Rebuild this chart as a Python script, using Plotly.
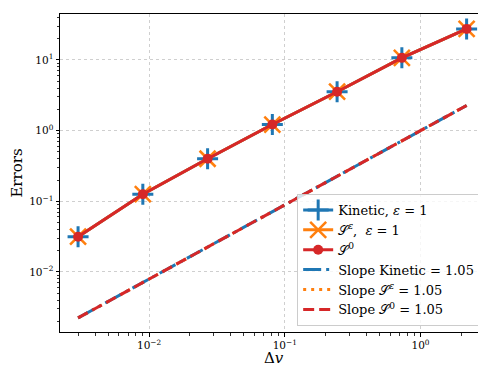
import plotly.graph_objects as go

dv = [0.003, 0.009, 0.027, 0.081, 0.243, 0.729, 2.187]
err_kinetic = [0.0316, 0.126, 0.40, 1.22, 3.55, 10.7, 27.5]
err_seps = [0.0316, 0.126, 0.40, 1.22, 3.55, 10.7, 27.5]
err_s0 = [0.0316, 0.126, 0.40, 1.22, 3.55, 10.7, 27.5]
slope_kinetic = [0.00224, 0.0071, 0.0225, 0.0711, 0.226, 0.716, 2.27]
slope_seps = [0.00224, 0.0071, 0.0225, 0.0711, 0.226, 0.716, 2.27]
slope_s0 = [0.00224, 0.0071, 0.0225, 0.0711, 0.226, 0.716, 2.27]

x_ticks = [0.01, 0.1, 1]
x_labels = ["10<sup>−2</sup>", "10<sup>−1</sup>", "10<sup>0</sup>"]
y_ticks = [0.01, 0.1, 1, 10]
y_labels = ["10<sup>−2</sup>", "10<sup>−1</sup>", "10<sup>0</sup>", "10<sup>1</sup>"]

blue = "#1f77b4"
orange = "#ff7f0e"
red = "#d62728"

xr = [-2.656, 0.49]
yr = [-2.849, 1.65]

fig = go.Figure()
fig.add_trace(go.Scatter(x=dv, y=err_kinetic, mode="lines+markers", name="Kinetic, <i>ε</i> = 1",
                         legendrank=1,
                         line=dict(color=blue, width=3),
                         marker=dict(symbol="cross-thin", size=15, line=dict(color=blue, width=3))))
fig.add_trace(go.Scatter(x=dv, y=err_seps, mode="lines+markers", name="𝒮<sup><i>ε</i></sup>,  <i>ε</i> = 1",
                         legendrank=2,
                         line=dict(color=orange, width=3),
                         marker=dict(symbol="x-thin", size=16, line=dict(color=orange, width=2.5))))
fig.add_trace(go.Scatter(x=dv, y=err_s0, mode="lines+markers", name="𝒮<sup>0</sup>",
                         legendrank=3,
                         line=dict(color=red, width=3),
                         marker=dict(symbol="circle", size=10, color=red)))
# orange slope drawn first, it is hidden under the other two in the original
fig.add_trace(go.Scatter(x=dv, y=slope_seps, mode="lines", name="Slope 𝒮<sup><i>ε</i></sup> = 1.05",
                         legendrank=5,
                         line=dict(color=orange, width=3, dash="3px,5px")))
fig.add_trace(go.Scatter(x=dv, y=slope_kinetic, mode="lines", name="Slope Kinetic = 1.05",
                         legendrank=4,
                         line=dict(color=blue, width=3, dash="18px,5px,3px,5px")))
fig.add_trace(go.Scatter(x=dv, y=slope_s0, mode="lines", name="Slope 𝒮<sup>0</sup> = 1.05",
                         legendrank=6,
                         line=dict(color=red, width=3, dash="11px,5px")))

axis_common = dict(type="log", showline=True, linecolor="black", linewidth=1, mirror=True,
                   ticks="outside", ticklen=3.5, tickcolor="black",
                   showgrid=True, gridcolor="#cfcfcf", griddash="dot", gridwidth=0.6,
                   zeroline=False, tickfont=dict(size=10.5),
                   minor=dict(dtick="D1", ticks="outside", ticklen=2.5, tickcolor="#333333",
                              tickwidth=1, showgrid=False))

fig.update_layout(
    width=486, height=365,
    margin=dict(l=52, r=7, t=6, b=41),
    plot_bgcolor="white", paper_bgcolor="white",
    font=dict(family="DejaVu Serif, Liberation Serif, serif", color="black", size=12),
    xaxis=dict(**axis_common, range=xr, tickvals=x_ticks, ticktext=x_labels),
    yaxis=dict(**axis_common, range=yr, tickvals=y_ticks, ticktext=y_labels,
               title=dict(text="Errors", font=dict(size=15), standoff=6)),
    legend=dict(x=0.984, y=0.019, xanchor="right", yanchor="bottom",
                bgcolor="rgba(255,255,255,0.8)", bordercolor="#cccccc", borderwidth=1,
                font=dict(size=13)),
    annotations=[dict(text="Δ<i>v</i>", xref="paper", yref="paper", x=0.5, y=-0.082,
                      xanchor="center", yanchor="middle", showarrow=False, font=dict(size=15))],
)

fig.write_html("out.html")
